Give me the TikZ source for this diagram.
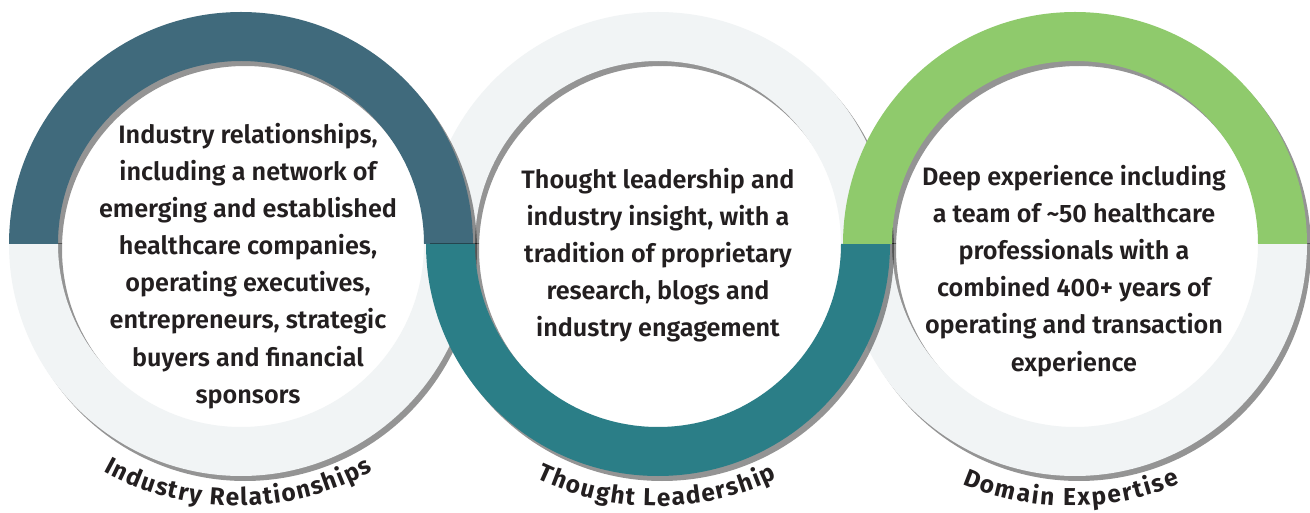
\documentclass[tikz,border=0pt]{standalone}
\usepackage{fontspec}
\setmainfont{Fira Sans}
\newfontfamily\bodyfont{Fira Sans SemiBold}
\usetikzlibrary{decorations.text}

\definecolor{ringnavy}{RGB}{64,106,124}
\definecolor{ringteal}{RGB}{43,126,135}
\definecolor{ringgreen}{RGB}{143,202,108}
\definecolor{ringpale}{RGB}{241,244,245}
\definecolor{inktext}{RGB}{35,31,32}

% ring geometry (1 unit = 1pt)
\newcommand\Rout{232}
\newcommand\Rin{183}
\newcommand\ringY{268}
\newcommand\labelfont{\bfseries\fontsize{24.5}{24.5}\selectfont}

% drop shadow of a ring, kept to one half: #1 centre x, #2 = 0 upper / 1 lower
\newcommand\ringshadow[2]{%
  \begin{scope}
    \ifnum#2=0
      \clip (#1-300,\ringY) rectangle (#1+300,\ringY+300);
    \else
      \clip (#1-300,\ringY) rectangle (#1+300,\ringY-300);
    \fi
    \fill[shadowfill,even odd rule]
      (#1+4,\ringY-5) circle[radius=\Rout]
      (#1+4,\ringY-5) circle[radius=\Rin];
  \end{scope}}
% upper and lower half bands: #1 centre x, #2 colour
\newcommand\upperband[2]{%
  \ringshadow{#1}{0}%
  \fill[#2] (#1+\Rout,\ringY) arc[start angle=0,end angle=180,radius=\Rout]
    -- (#1-\Rin,\ringY) arc[start angle=180,end angle=0,radius=\Rin] -- cycle;}
\newcommand\lowerband[2]{%
  \ringshadow{#1}{1}%
  \fill[#2] (#1+\Rout,\ringY) arc[start angle=0,end angle=-180,radius=\Rout]
    -- (#1-\Rin,\ringY) arc[start angle=-180,end angle=0,radius=\Rin] -- cycle;}

\tikzset{
  shadowfill/.style={fill=black,fill opacity=0.42},
  bodytext/.style={font=\bodyfont\fontsize{25.2}{37.1}\selectfont,
    align=center,text=inktext,inner sep=0pt},
}

\begin{document}
\begin{tikzpicture}[x=1pt,y=1pt]
  \useasboundingbox (0,0) rectangle (1310,512);
  \fill[white] (0,0) rectangle (1310,512);

  % pale halves sit underneath
  \lowerband{241}{ringpale}
  \upperband{658}{ringpale}
  \lowerband{1075}{ringpale}
  % coloured halves lie on top
  \upperband{241}{ringnavy}
  \lowerband{658}{ringteal}
  \upperband{1075}{ringgreen}

  % texts inside the rings
  \node[bodytext] (t1) at (248,246) {Industry relationships,\\including a network of\\emerging and established\\healthcare companies,\\operating executives,\\entrepreneurs, strategic\\buyers and financial\\sponsors};
  \node[bodytext] (t2) at (658,257) {Thought leadership and\\industry insight, with a\\tradition of proprietary\\research, blogs and\\industry engagement};
  \node[bodytext] (t3) at (1074,241) {Deep experience including\\a team of \textasciitilde50 healthcare\\professionals with a\\combined 400+ years of\\operating and transaction\\experience};

  % curved captions under the rings
  \path[decorate,decoration={text along path,text color=inktext,
      text={|\labelfont|Industry Relationships},text align=fit to path}]
    (238,286) ++(241.2:280) arc[start angle=241.2,end angle=298.8,radius=280];
  \path[decorate,decoration={text along path,text color=inktext,
      text={|\labelfont|Thought Leadership},text align=fit to path}]
    (657,286) ++(244.6:280) arc[start angle=244.6,end angle=295.4,radius=280];
  \path[decorate,decoration={text along path,text color=inktext,
      text={|\labelfont|Domain Expertise},text align=fit to path}]
    (1071,286) ++(247.1:280) arc[start angle=247.1,end angle=292.9,radius=280];
\end{tikzpicture}
\end{document}
